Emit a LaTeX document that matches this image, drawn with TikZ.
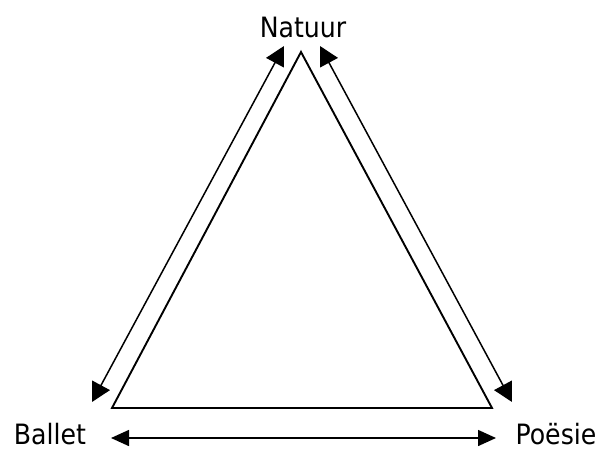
\documentclass[tikz,border=0pt]{standalone}
\usepackage{fontspec}
\setmainfont{DejaVu Sans Condensed}
\usetikzlibrary{arrows.meta}
\begin{document}
\begin{tikzpicture}[x=1pt,y=-1pt,
  lbl/.style={anchor=base,inner sep=0pt,font=\fontsize{28}{34}\selectfont},
  tri/.style={line width=1.9pt,line join=miter},
  dbl/.style={line width=1.5pt,{Triangle[length=19pt,width=20pt]}-{Triangle[length=19pt,width=20pt]}},
  hdbl/.style={line width=1.5pt,{Triangle[length=18pt,width=16pt]}-{Triangle[length=18pt,width=16pt]}}]
\useasboundingbox (0,0) rectangle (599,450);
\node[lbl] (nat) at (303,37) {Natuur};
\node[lbl] (bal) at (50,444) {Ballet};
\node[lbl] (poe) at (556,444) {Poësie};
\coordinate (A) at (301,52);
\coordinate (B) at (112,408);
\coordinate (C) at (492,408);
\draw[tri] (A) -- (B) -- (C) -- cycle;
\coordinate (l1) at (284,46);
\coordinate (l2) at (92,402);
\coordinate (r1) at (320,46);
\coordinate (r2) at (512,402);
\coordinate (b1) at (111,438);
\coordinate (b2) at (496,438);
\draw[dbl] (l1) -- (l2);
\draw[dbl] (r1) -- (r2);
\draw[hdbl] (b1) -- (b2);
\end{tikzpicture}
\end{document}
